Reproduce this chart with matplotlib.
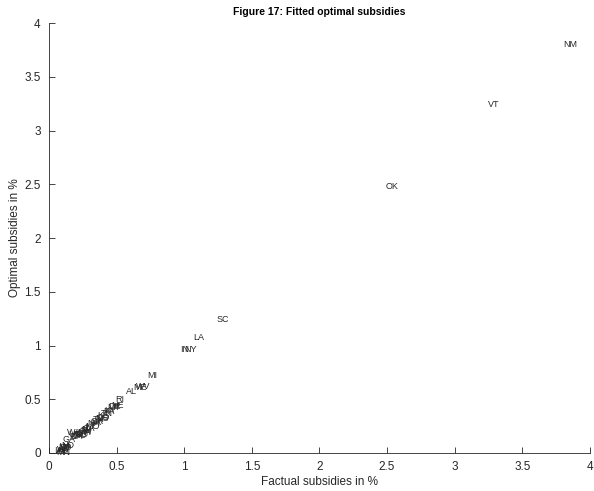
import numpy as np
import matplotlib.pyplot as plt

plt.rcParams['font.family'] = ['Liberation Sans', 'DejaVu Sans']

# state labels with factual and fitted optimal subsidies (in %)
states = ['NM', 'VT', 'OK', 'SC', 'LA', 'NY', 'IN', 'MI', 'WV', 'ME',
          'AL', 'RI', 'NE', 'DE', 'MT', 'KY', 'PA', 'TN', 'KS', 'CO',
          'MS', 'TX', 'OR', 'AR', 'NH', 'MO', 'IL', 'CA', 'NJ', 'FL',
          'OH', 'MA', 'CT', 'MD', 'NC', 'VA', 'WA', 'ID', 'UT', 'GA',
          'ND', 'SD', 'AZ', 'HI', 'AK', 'WY', 'NV', 'IA', 'MN', 'WI']
factual = [3.80, 3.25, 2.49, 1.24, 1.07, 1.00, 0.97, 0.73, 0.64, 0.62,
           0.57, 0.49, 0.46, 0.44, 0.43, 0.41, 0.40, 0.38, 0.36, 0.35,
           0.34, 0.32, 0.31, 0.30, 0.28, 0.27, 0.26, 0.25, 0.24, 0.23,
           0.22, 0.21, 0.20, 0.19, 0.18, 0.17, 0.13, 0.15, 0.14, 0.10,
           0.09, 0.08, 0.07, 0.06, 0.05, 0.06, 0.07, 0.04, 0.05, 0.08]
optimal = [3.80, 3.24, 2.48, 1.24, 1.07, 0.96, 0.96, 0.72, 0.62, 0.61,
           0.57, 0.50, 0.44, 0.43, 0.42, 0.40, 0.39, 0.37, 0.35, 0.33,
           0.32, 0.31, 0.29, 0.28, 0.27, 0.25, 0.24, 0.23, 0.22, 0.21,
           0.20, 0.19, 0.18, 0.17, 0.16, 0.15, 0.19, 0.15, 0.17, 0.13,
           0.07, 0.05, 0.04, 0.02, 0.01, 0.03, 0.05, 0.02, 0.00, 0.06]

fig = plt.figure(figsize=(5.94, 4.91), dpi=100)
ax = fig.add_axes([0.0825, 0.0774, 0.9105, 0.8756])

grey = '#262626'
for s, x, y in zip(states, factual, optimal):
    ax.text(x, y, s, fontsize=6.5, ha='left', va='center', color=grey)

ax.set_xlim(0, 4)
ax.set_ylim(0, 4)
ax.set_xticks(np.arange(0, 4.01, 0.5))
ax.set_yticks(np.arange(0, 4.01, 0.5))
ax.set_xticklabels(['0', '0.5', '1', '1.5', '2', '2.5', '3', '3.5', '4'])
ax.set_yticklabels(['0', '0.5', '1', '1.5', '2', '2.5', '3', '3.5', '4'])
ax.spines['top'].set_visible(False)
ax.spines['right'].set_visible(False)
for sp in ['left', 'bottom']:
    ax.spines[sp].set_color(grey)
    ax.spines[sp].set_linewidth(0.6)
ax.tick_params(direction='in', length=4, width=0.6, colors=grey,
               labelsize=8.5, pad=6)

ax.set_xlabel('Factual subsidies in %', fontsize=8.5, color=grey, labelpad=2)
ax.set_ylabel('Optimal subsidies in %', fontsize=8.5, color=grey, labelpad=2)
ax.set_title('Figure 17: Fitted optimal subsidies', fontsize=7.5,
             fontweight='bold', pad=6)

fig.savefig('out.png', dpi=100)
